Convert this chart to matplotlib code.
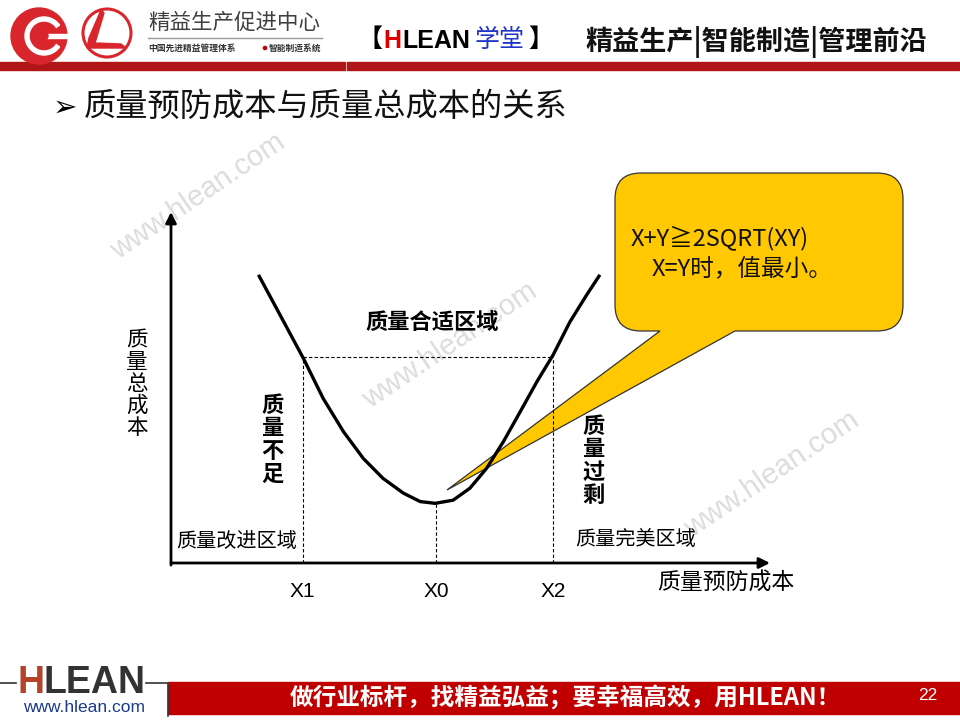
#!/usr/bin/env python3
# -*- coding: utf-8 -*-
"""
质量预防成本与质量总成本的关系 - 幻灯片图
"""
import matplotlib
matplotlib.use('Agg')
import matplotlib.pyplot as plt
from matplotlib.patches import Rectangle, Circle, Wedge, Polygon, PathPatch
from matplotlib.path import Path

plt.rcParams['font.family'] = ['Noto Sans CJK SC', 'DejaVu Sans']
plt.rcParams['axes.unicode_minus'] = False

# 数据: 横轴=质量预防成本, 纵轴=质量总成本 (相对单位 0-100)
prevention_cost = [14.6, 17.6, 22.1, 25.4, 28.8, 32.1, 35.4, 38.8, 41.6, 44.1,
                   47.1, 49.9, 52.7, 55.5, 58.3, 61.1, 63.8, 66.6, 69.4, 71.6]
total_cost = [82.1, 72.6, 58.3, 46.9, 37.4, 29.8, 24.1, 19.9, 17.5, 17.0,
              17.9, 21.3, 27.0, 34.6, 43.1, 51.7, 59.3, 68.7, 76.4, 82.1]
tick_pos = [22.0, 44.3, 63.8]
tick_labels = ['X1', 'X0', 'X2']
suitable_level = 58.8
min_cost = 17.0

title = '质量预防成本与质量总成本的关系'
callout_lines = ['X+Y≧2SQRT(XY)', 'X=Y时，值最小。']
slogan = '做行业标杆，找精益弘益；要幸福高效，用HLEAN！'

RED = '#c00000'
GOLD = '#ffc800'

fig = plt.figure(figsize=(9.6, 7.2), dpi=100)

# 背景层, 像素坐标
bg = fig.add_axes([0, 0, 1, 1], zorder=0)
bg.set_xlim(0, 960)
bg.set_ylim(720, 0)
bg.axis('off')

# ---- 页眉 ----
bg.add_patch(Circle((39, 36), 28, color='#d9262c', zorder=2))
bg.add_patch(Wedge((44, 36), 19, 35, 325, width=4, color='white', zorder=3))
bg.add_patch(Rectangle((44, 34), 24, 3.5, color='white', zorder=3))
bg.add_patch(Circle((44, 36), 4, color='#d9262c', zorder=4))
bg.add_patch(Circle((107, 33), 24, fill=False, ec='#d9262c', lw=2.2, zorder=2))
bg.add_patch(Polygon([(101, 10), (89, 38), (87, 48), (126, 48), (121, 44),
                      (95, 43), (104, 13)], closed=True, color='#d9262c', zorder=3))

bg.text(148, 23, '精益生产促进中心', fontsize=15.5, color='#404040',
        ha='left', va='center')
bg.plot([148, 322], [38, 38], color='#999999', lw=1)
bg.text(148, 48, '中国先进精益管理体系', fontsize=6.3, fontweight='bold',
        color='#333333', ha='left', va='center')
bg.add_patch(Circle((265, 48), 1.6, color=RED))
bg.text(269, 48, '智能制造系统', fontsize=6.3, fontweight='bold',
        color='#333333', ha='left', va='center')

bg.text(358, 40, '【', fontsize=18, fontweight='bold', ha='left', va='center')
bg.text(383, 41, 'H', fontsize=18, fontweight='bold', color='#e00000',
        family='Liberation Sans', ha='left', va='center')
bg.text(402, 41, 'LEAN', fontsize=18, fontweight='bold', color='black',
        family='Liberation Sans', ha='left', va='center')
bg.text(475, 40, '学堂', fontsize=18, color='#1f35c8', ha='left', va='center')
bg.text(528, 40, '】', fontsize=18, fontweight='bold', ha='left', va='center')
bg.text(585, 42, '精益生产|智能制造|管理前沿', fontsize=19.5, fontweight='bold',
        color='#111111', ha='left', va='center')

bg.add_patch(Rectangle((0, 62), 345, 8, color='#b01616'))
bg.add_patch(Rectangle((347, 62), 613, 8, color='#b01616'))

# ---- 标题 ----
bg.text(53, 108, '➢', fontsize=21, family='DejaVu Sans', ha='left', va='center')
bg.text(84, 107, title, fontsize=23.2, color='#111111', ha='left', va='center')

# ---- 水印 ----
for wx, wy in [(198, 196), (450, 345), (772, 474)]:
    bg.text(wx, wy, 'www.hlean.com', fontsize=21, color='#dcdcdc',
            family='Liberation Sans', rotation=34, ha='center', va='center',
            zorder=1)

# ---- 提示框 ----
L, R, T, B, r = 615, 903, 173, 331, 26
verts = [(L + r, T), (R - r, T), (R, T), (R, T + r), (R, B - r), (R, B),
         (R - r, B), (735, B), (447, 490), (660, B), (L + r, B), (L, B),
         (L, B - r), (L, T + r), (L, T), (L + r, T), (L + r, T)]
codes = [Path.MOVETO, Path.LINETO, Path.CURVE3, Path.CURVE3, Path.LINETO,
         Path.CURVE3, Path.CURVE3, Path.LINETO, Path.LINETO, Path.LINETO,
         Path.LINETO, Path.CURVE3, Path.CURVE3, Path.LINETO, Path.CURVE3,
         Path.CURVE3, Path.CLOSEPOLY]
bg.add_patch(PathPatch(Path(verts, codes), fc=GOLD, ec='#333333', lw=0.9,
                       zorder=2))
bg.text(631, 238, callout_lines[0], fontsize=17, color='#111111',
        ha='left', va='center', zorder=3)
bg.text(652, 270, callout_lines[1], fontsize=17, color='#111111',
        ha='left', va='center', zorder=3)

# ---- 页脚 ----
bg.plot([0, 16], [683, 683], color='#333333', lw=1.2)
bg.plot([146, 168, 168], [683, 683, 716], color='#333333', lw=1.2)
bg.text(17, 683, 'H', fontsize=27, fontweight='bold', color='#b5432a',
        family='Liberation Sans', ha='left', va='center')
bg.text(44, 683, 'LEAN', fontsize=27, fontweight='bold', color='#333333',
        family='Liberation Sans', ha='left', va='center')
bg.text(84, 708, 'www.hlean.com', fontsize=12.5, color='#1a3a8a',
        family='Liberation Sans', ha='center', va='center')
bg.add_patch(Rectangle((168, 682), 792, 32, color=RED))
bg.text(565, 697, slogan, fontsize=17, fontweight='bold', color='white',
        ha='center', va='center')
bg.text(928, 695, '22', fontsize=12.5, color='white', family='Liberation Sans',
        ha='center', va='center')

# ---- 曲线图 ----
ax = fig.add_axes([171 / 960, (720 - 563) / 720, 599 / 960, 351 / 720], zorder=1)
ax.patch.set_alpha(0)
ax.set_xlim(0, 100)
ax.set_ylim(0, 100)
for s in ax.spines.values():
    s.set_visible(False)
ax.set_yticks([])
ax.set_xticks(tick_pos, tick_labels, family='Liberation Sans', fontsize=15)
ax.tick_params(axis='x', length=0, pad=14)

ax.annotate('', xy=(100, 0), xytext=(0, 0),
            arrowprops=dict(arrowstyle='-|>', lw=2, color='black',
                            mutation_scale=16, shrinkA=0, shrinkB=0),
            annotation_clip=False)
ax.annotate('', xy=(0, 100), xytext=(0, -0.6),
            arrowprops=dict(arrowstyle='-|>', lw=2, color='black',
                            mutation_scale=16, shrinkA=0, shrinkB=0),
            annotation_clip=False)

ax.plot(prevention_cost, total_cost, color='black', lw=2.4,
        solid_joinstyle='round', solid_capstyle='butt', zorder=5)

dash = dict(color='black', lw=0.8, ls=(0, (3, 2)))
ax.plot([tick_pos[0], tick_pos[2]], [suitable_level, suitable_level], **dash)
ax.plot([tick_pos[0], tick_pos[0]], [0, suitable_level], **dash)
ax.plot([tick_pos[2], tick_pos[2]], [0, suitable_level], **dash)
ax.plot([tick_pos[1], tick_pos[1]], [0, min_cost], **dash)

ax.text(43.6, 68.4, '质量合适区域', fontsize=16, fontweight='bold',
        ha='center', va='center')
ax.text(17.0, 35.0, '\n'.join('质量不足'), fontsize=16, fontweight='bold',
        ha='center', va='center', linespacing=1.0)
ax.text(70.6, 29.1, '\n'.join('质量过剩'), fontsize=16, fontweight='bold',
        ha='center', va='center', linespacing=1.0)
ax.text(10.9, 6.0, '质量改进区域', fontsize=14.5, ha='center', va='center')
ax.text(77.6, 6.6, '质量完美区域', fontsize=14.5, ha='center', va='center')
ax.text(92.7, -5.7, '质量预防成本', fontsize=16.5, ha='center', va='center',
        clip_on=False)
ax.text(-5.7, 51.0, '\n'.join('质量总成本'), fontsize=15.5, ha='center',
        va='center', linespacing=1.0, clip_on=False)

plt.savefig('out.png', dpi=100)
plt.close()
